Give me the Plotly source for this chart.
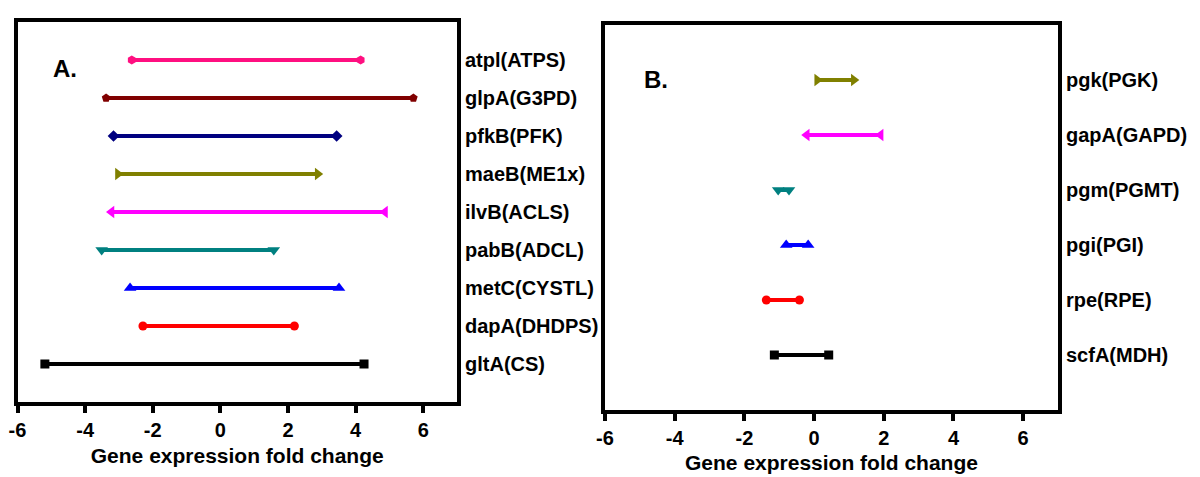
import plotly.graph_objects as go

# ---- Panel A data ----
a_genes = ["gltA(CS)", "dapA(DHDPS)", "metC(CYSTL)", "pabB(ADCL)", "ilvB(ACLS)",
           "maeB(ME1x)", "pfkB(PFK)", "glpA(G3PD)", "atpl(ATPS)"]
a_low = [-5.19, -2.29, -2.67, -3.51, -3.22, -3.03, -3.16, -3.38, -2.62]
a_high = [4.25, 2.19, 3.51, 1.58, 4.87, 2.88, 3.44, 5.71, 4.15]
a_colors = ["#000000", "#FF0000", "#0000FF", "#008080", "#FF00FF",
            "#808000", "#000080", "#800000", "#FF0F80"]
a_symbols = ["square", "circle", "triangle-up", "triangle-down", "triangle-left",
             "triangle-right", "diamond", "pentagon", "hexagon"]

# ---- Panel B data ----
b_genes = ["scfA(MDH)", "rpe(RPE)", "pgi(PGI)", "pgm(PGMT)", "gapA(GAPD)", "pgk(PGK)"]
b_low = [-1.14, -1.37, -0.80, -1.03, -0.21, 0.09]
b_high = [0.42, -0.42, -0.17, -0.72, 1.91, 1.14]
b_colors = ["#000000", "#FF0000", "#0000FF", "#008080", "#FF00FF", "#808000"]
b_symbols = ["square", "circle", "triangle-up", "triangle-down", "triangle-left", "triangle-right"]

x_ticks = [-6, -4, -2, 0, 2, 4, 6]
x_ticktext = ["-6", "-4", "-2", "0", "2", "4", "6"]
x_title = "Gene expression fold change"

FONT = "Arial, Liberation Sans, Helvetica, sans-serif"

fig = go.Figure()

def msize(sym):
    return 11 if sym.startswith("triangle") else 9

for i, g in enumerate(a_genes):
    fig.add_trace(go.Scatter(
        x=[a_low[i], a_high[i]], y=[i, i], mode="lines+markers",
        line=dict(color=a_colors[i], width=4),
        marker=dict(symbol=a_symbols[i], color=a_colors[i], size=msize(a_symbols[i])),
        xaxis="x", yaxis="y", showlegend=False, name=g))

for i, g in enumerate(b_genes):
    fig.add_trace(go.Scatter(
        x=[b_low[i], b_high[i]], y=[i, i], mode="lines+markers",
        line=dict(color=b_colors[i], width=4),
        marker=dict(symbol=b_symbols[i], color=b_colors[i], size=msize(b_symbols[i])),
        xaxis="x2", yaxis="y2", showlegend=False, name=g))

tickfont = dict(family=FONT, size=20, color="black", weight="bold")
titlefont = dict(family=FONT, size=21, color="black", weight="bold")
labfont = dict(family=FONT, size=20, color="black", weight="bold")

def xax(domain, anchor, standoff):
    return dict(domain=domain, anchor=anchor, range=[-6, 7], tickvals=x_ticks,
                ticktext=x_ticktext, automargin=False,
                ticks="outside", ticklen=7, tickwidth=4, tickcolor="black",
                showline=True, linewidth=4, linecolor="black", mirror=True,
                showgrid=False, zeroline=False, tickfont=tickfont,
                title=dict(text=x_title, font=titlefont, standoff=standoff))

def yax(domain, anchor, n, labels):
    return dict(domain=domain, anchor=anchor, range=[-1, n], side="right",
                tickvals=list(range(len(labels))), ticktext=labels, ticks="",
                automargin=False,
                showline=True, linewidth=4, linecolor="black", mirror=True,
                showgrid=False, zeroline=False, tickfont=labfont)

fig.update_layout(
    width=1200, height=477, margin=dict(l=0, r=0, t=0, b=0, autoexpand=False),
    paper_bgcolor="white", plot_bgcolor="white",
    xaxis=xax([17.5/1200, 457/1200], "y", 9),
    yaxis=yax([1 - 402/477, 1 - 22/477], "x", 9, a_genes),
    xaxis2=xax([605/1200, 1058/1200], "y2", 8),
    yaxis2=yax([1 - 410/477, 1 - 25/477], "x2", 6, b_genes),
    annotations=[
        dict(text="A.", x=65/1200, y=1 - 69/477, xref="paper", yref="paper",
             xanchor="center", yanchor="middle",
             showarrow=False, font=dict(family=FONT, size=24, color="black", weight="bold")),
        dict(text="B.", x=656/1200, y=1 - 79/477, xref="paper", yref="paper",
             xanchor="center", yanchor="middle",
             showarrow=False, font=dict(family=FONT, size=24, color="black", weight="bold")),
    ],
)

fig.write_html("out.html", config={"displayModeBar": False},
               post_script="document.body.style.margin='0';")
